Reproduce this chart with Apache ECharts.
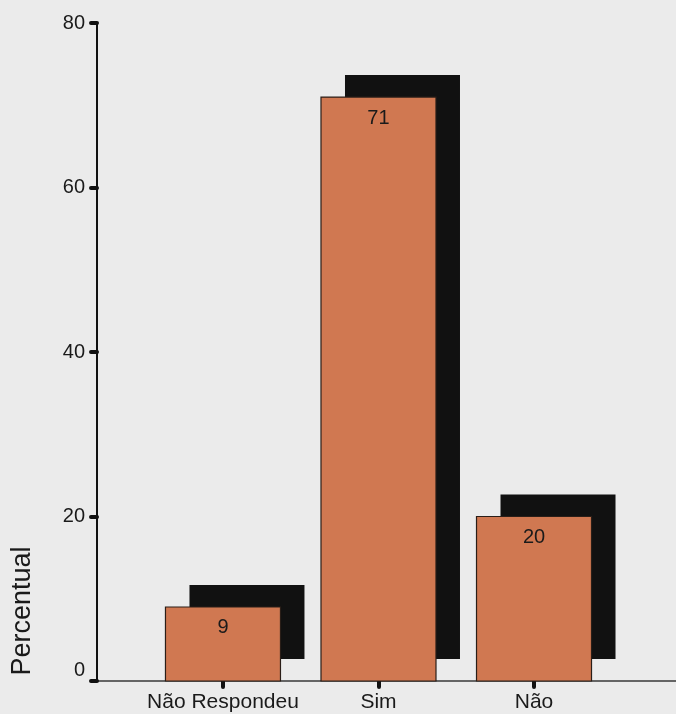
<!DOCTYPE html>
<html>
<head>
<meta charset="utf-8">
<script src="https://cdn.jsdelivr.net/npm/echarts@6/dist/echarts.min.js"></script>
<style>
  html, body { margin: 0; padding: 0; background: #ebebeb; }
  #chart { width: 676px; height: 714px; }
</style>
</head>
<body>
<div id="chart"></div>
<script>
// Answer categories and their percentages
const categories = ['Não Respondeu', 'Sim', 'Não'];
const percentages = [9, 71, 20];
const yTicks = [0, 20, 40, 60, 80];

const FONT = '"Liberation Sans", Arial, sans-serif';
const BAR_COLOR = '#d07851';
const SHADOW_COLOR = '#111111';
const BAR_WIDTH = 115;
const SHADOW_DX = 24;
const SHADOW_DY = 22;

// each category sits at position 1, 2, 3 on a numeric x axis
const positions = categories.map((c, i) => i + 1);
const seriesData = positions.map((p, i) => [p, percentages[i]]);

const chart = echarts.init(document.getElementById('chart'), null, { renderer: 'canvas' });

chart.setOption({
  backgroundColor: '#ebebeb',
  animation: false,
  grid: { left: 97, right: 0, top: 23, bottom: 33, containLabel: false },
  xAxis: {
    type: 'value',
    min: 0.19,
    max: 3.913,
    splitLine: { show: false },
    axisLine: { show: true, onZero: false, lineStyle: { color: '#3a3a3a', width: 1.5 } },
    axisTick: {
      show: true,
      customValues: positions,
      length: 6,
      lineStyle: { color: '#111', width: 4, cap: 'round' }
    },
    axisLabel: {
      customValues: positions,
      margin: 11,
      color: '#1a1a1a',
      fontFamily: FONT,
      fontSize: 21,
      formatter: v => categories[Math.round(v) - 1] || ''
    }
  },
  yAxis: {
    type: 'value',
    min: 0,
    max: 80,
    interval: 20,
    splitLine: { show: false },
    axisLine: { show: true, lineStyle: { color: '#111', width: 2 } },
    axisTick: {
      show: true,
      customValues: yTicks,
      length: 6,
      lineStyle: { color: '#111', width: 4, cap: 'round' }
    },
    axisLabel: {
      customValues: yTicks,
      margin: 12,
      color: '#1a1a1a',
      fontFamily: FONT,
      fontSize: 20,
      formatter: v => (v === 0 ? '{z|0}' : String(v)),
      rich: {
        z: { fontFamily: FONT, fontSize: 20, color: '#1a1a1a', padding: [0, 0, 22, 0] }
      }
    }
  },
  graphic: [{
    type: 'text',
    x: 23,
    y: 611,
    rotation: Math.PI / 2,
    style: {
      text: 'Percentual',
      font: '27px ' + FONT,
      fill: '#1a1a1a',
      align: 'center',
      verticalAlign: 'middle'
    }
  }],
  series: [{
    type: 'custom',
    data: seriesData,
    encode: { x: 0, y: 1 },
    renderItem: function (params, api) {
      const x = api.value(0);
      const v = api.value(1);
      const top = api.coord([x, v]);
      const base = api.coord([x, 0]);
      const h = base[1] - top[1];
      const left = top[0] - BAR_WIDTH / 2;
      return {
        type: 'group',
        children: [
          {
            type: 'rect',
            shape: { x: left + SHADOW_DX, y: top[1] - SHADOW_DY, width: BAR_WIDTH, height: h },
            style: { fill: SHADOW_COLOR }
          },
          {
            type: 'rect',
            shape: { x: left, y: top[1], width: BAR_WIDTH, height: h },
            style: { fill: BAR_COLOR, stroke: '#2a1e18', lineWidth: 1.2 }
          },
          {
            type: 'text',
            style: {
              text: String(v),
              x: top[0],
              y: top[1] + 21,
              align: 'center',
              verticalAlign: 'middle',
              font: '20px ' + FONT,
              fill: '#1a1a1a'
            }
          }
        ]
      };
    }
  }]
});
</script>
</body>
</html>
